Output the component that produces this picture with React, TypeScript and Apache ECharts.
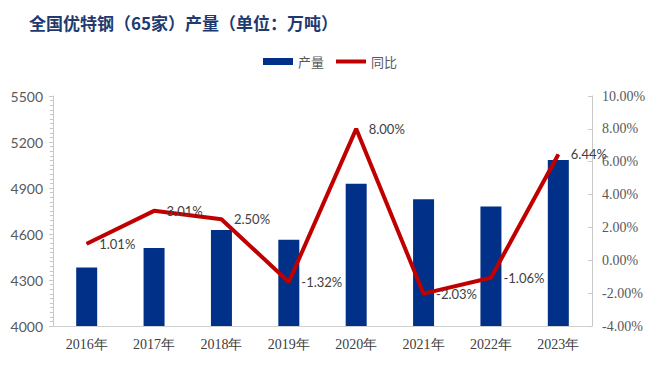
import React, { useEffect, useRef } from "react";
import * as echarts from "echarts";

const categories = ["2016年", "2017年", "2018年", "2019年", "2020年", "2021年", "2022年", "2023年"];
const production = [4381, 4509, 4626, 4563, 4928, 4827, 4779, 5082];
const yoy = [1.01, 3.01, 2.5, -1.32, 8.0, -2.03, -1.06, 6.44];
const leftTicks = [4000, 4300, 4600, 4900, 5200, 5500];
const rightTicks = [-4, -2, 0, 2, 4, 6, 8, 10];

export default function App() {
  const ref = useRef<HTMLDivElement>(null);
  useEffect(() => {
    const chart = echarts.init(ref.current!, null, { renderer: "svg" });
    chart.setOption({
      animation: false,
      backgroundColor: "#ffffff",
      title: {
        text: "全国优特钢（65家）产量（单位：万吨）",
        left: 24,
        top: 9,
        textStyle: {
          fontFamily: "Noto Sans CJK SC",
          fontWeight: "bold",
          fontSize: 17,
          color: "#1F3A6E",
        },
      },
      legend: {
        top: 50,
        left: "center",
        itemGap: 12,
        textStyle: { fontFamily: "Noto Sans CJK SC", fontSize: 13, color: "#595959" },
        data: [
          { name: "产量", icon: "rect", itemStyle: { color: "#003087" } },
          { name: "同比", icon: "path://M0,0 L30,0 L30,4 L0,4 Z", itemStyle: { color: "#C00000" } },
        ],
        itemWidth: 30,
        itemHeight: 7,
      },
      grid: { left: 53, right: 68, top: 96, bottom: 47 },
      xAxis: {
        type: "category",
        data: categories,
        axisLine: { show: true, onZero: false, lineStyle: { color: "#d0d0d0", width: 1 } },
        axisTick: { show: false },
        axisLabel: {
          fontFamily: "Liberation Serif",
          fontSize: 14,
          color: "#404040",
          margin: 11,
        },
      },
      yAxis: [
        {
          type: "value",
          min: leftTicks[0],
          max: leftTicks[leftTicks.length - 1],
          interval: 300,
          position: "left",
          axisLine: { show: true, lineStyle: { color: "#c8c8c8" } },
          axisTick: { show: true, length: 4, lineStyle: { color: "#c8c8c8" } },
          minorTick: { show: true, splitNumber: 10, length: 3, lineStyle: { color: "#c8c8c8" } },
          splitLine: { show: false },
          axisLabel: {
            fontFamily: "Lato",
            fontSize: 14,
            color: "#595959",
            margin: 10,
            formatter: (v: number) => String(v),
          },
        },
        {
          type: "value",
          min: rightTicks[0],
          max: rightTicks[rightTicks.length - 1],
          interval: 2,
          position: "right",
          axisLine: { show: true, lineStyle: { color: "#c8c8c8" } },
          axisTick: { show: true, inside: true, length: 4, lineStyle: { color: "#c8c8c8" } },
          splitLine: { show: false },
          axisLabel: {
            fontFamily: "Liberation Serif",
            fontSize: 14,
            color: "#595959",
            margin: 10,
            formatter: (v: number) => v.toFixed(2) + "%",
          },
        },
      ],
      series: [
        {
          name: "产量",
          type: "bar",
          data: production,
          barWidth: 21,
          itemStyle: { color: "#003087" },
          yAxisIndex: 0,
        },
        {
          name: "同比",
          type: "line",
          data: yoy,
          yAxisIndex: 1,
          symbol: "circle",
          symbolSize: 1,
          showSymbol: true,
          lineStyle: { color: "#C00000", width: 4 },
          itemStyle: { color: "#C00000" },
          label: {
            show: true,
            position: "right",
            distance: 12,
            fontFamily: "Lato",
            fontSize: 13,
            color: "#404040",
            formatter: (p: any) => p.value.toFixed(2) + "%",
          },
          labelLayout: { hideOverlap: false },
        },
      ],
    });
    return () => chart.dispose();
  }, []);
  return <div ref={ref} style={{ width: 660, height: 373, margin: -8 }} />;
}
